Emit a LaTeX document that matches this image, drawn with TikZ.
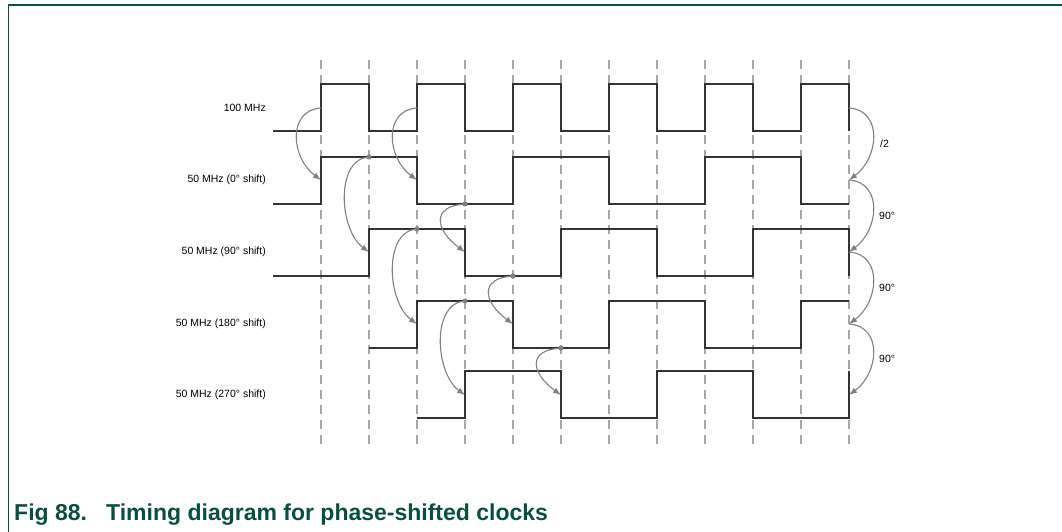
\documentclass[tikz,border=0pt]{standalone}
\usepackage{fontspec}
\setmainfont{Liberation Sans}
\usepackage{xcolor}
\usetikzlibrary{arrows.meta}
\definecolor{figgreen}{RGB}{10,78,62}

\begin{document}
\begin{tikzpicture}[x=1pt, y=-1pt,
    wave/.style={draw=black!80, line width=1.4pt},
    guide/.style={draw=black!35, line width=1.2pt, dash pattern=on 9pt off 6pt},
    link/.style={-{Latex[length=8pt, width=6pt]}, draw=black!50, line width=1.1pt},
    dot/.style={circle, fill=black!50, inner sep=0pt, minimum size=5pt},
    sig/.style={anchor=east, inner sep=0pt, font=\fontsize{10.5}{12}\selectfont},
    note/.style={anchor=west, inner sep=0pt, font=\fontsize{10.5}{12}\selectfont},
    figcaption/.style={anchor=base west, inner sep=0pt, text=figgreen, font=\fontsize{23}{27}\selectfont\bfseries}
]
\useasboundingbox (0,0) rectangle (1062,532);

% frame
\draw[figgreen, line width=1.5pt] (8.5,532) -- (8.5,5) -- (1062,5);

% time grid
\foreach \i in {0,...,11}
    \draw[guide] (321+48*\i,60) -- (321+48*\i,445);

% clock labels
\node[sig] (c100) at (266,108) {100 MHz};
\node[sig] (c0) at (266,180) {50 MHz (0° shift)};
\node[sig] (c90) at (266,252) {50 MHz (90° shift)};
\node[sig] (c180) at (266,324) {50 MHz (180° shift)};
\node[sig] (c270) at (266,395) {50 MHz (270° shift)};

% waveforms
\draw[wave] (273,131) -| (321,84) -| (369,131) -| (417,84) -| (465,131) -| (513,84) -| (561,131)
    -| (609,84) -| (657,131) -| (705,84) -| (753,131) -| (801,84) -| (849,131);
\draw[wave] (273,204) -| (321,157) -| (417,204) -| (513,157) -| (609,204) -| (705,157) -| (801,204) -- (849,204);
\draw[wave] (273,276) -| (369,229) -| (465,276) -| (561,229) -| (657,276) -| (753,229) -| (849,276);
\draw[wave] (369,348) -| (417,301) -| (513,348) -| (609,301) -| (705,348) -| (801,301) -- (849,301);
\draw[wave] (417,418) -| (465,371) -| (561,418) -| (657,371) -| (753,418) -| (849,371);

% edge points
\coordinate (r1) at (321,108);
\coordinate (r2) at (417,108);
\coordinate (e1) at (321,180);
\coordinate (e2) at (417,180);
\coordinate (e3) at (369,252);
\coordinate (e4) at (465,252);
\coordinate (e5) at (417,324);
\coordinate (e6) at (513,324);
\coordinate (e7) at (465,395);
\coordinate (e8) at (561,395);

% trigger dots
\node[dot] (d3) at (369,157) {};
\node[dot] (d4) at (465,204) {};
\node[dot] (d5) at (417,229) {};
\node[dot] (d6) at (513,276) {};
\node[dot] (d7) at (465,301) {};
\node[dot] (d8) at (561,348) {};

\draw[link] (r1) .. controls +(-34,2) and +(-30,-22) .. (e1);
\draw[link] (r2) .. controls +(-34,2) and +(-30,-22) .. (e2);
\draw[link] (d3.center) .. controls +(-34,2) and +(-30,-22) .. (e3);
\draw[link] (d4.center) .. controls +(-34,2) and +(-30,-22) .. (e4);
\draw[link] (d5.center) .. controls +(-34,2) and +(-30,-22) .. (e5);
\draw[link] (d6.center) .. controls +(-34,2) and +(-30,-22) .. (e6);
\draw[link] (d7.center) .. controls +(-34,2) and +(-30,-22) .. (e7);
\draw[link] (d8.center) .. controls +(-34,2) and +(-30,-22) .. (e8);

% phase steps at the right
\coordinate (p0) at (849,108);
\coordinate (p1) at (849,180);
\coordinate (p2) at (849,252);
\coordinate (p3) at (849,324);
\coordinate (p4) at (849,395);
\draw[link] (p0) .. controls +(34,2) and +(30,-22) .. (p1);
\draw[link] (p1) .. controls +(34,2) and +(30,-22) .. (p2);
\draw[link] (p2) .. controls +(34,2) and +(30,-22) .. (p3);
\draw[link] (p3) .. controls +(34,2) and +(30,-22) .. (p4);
\node[note] (div) at (880,144) {/2};
\node[note] (s1) at (879,216) {90°};
\node[note] (s2) at (879,288) {90°};
\node[note] (s3) at (879,359) {90°};

% caption
\node[figcaption] (fig) at (14,520) {Fig 88.};
\node[figcaption] (title) at (106,520) {Timing diagram for phase-shifted clocks};
\end{tikzpicture}
\end{document}
